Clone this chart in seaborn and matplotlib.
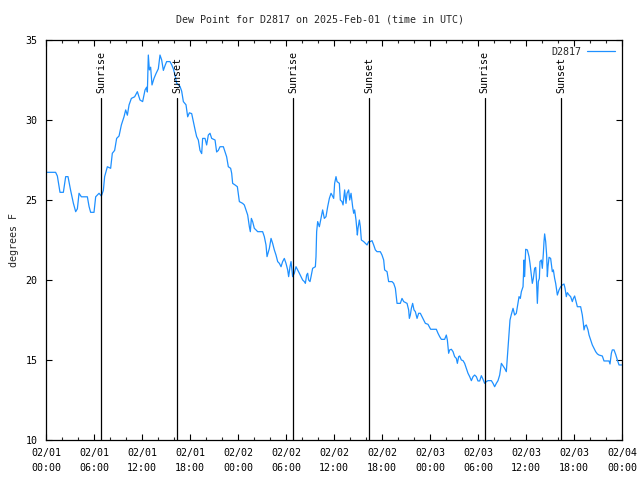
import numpy as np
import pandas as pd
import matplotlib
matplotlib.use("Agg")
import matplotlib.pyplot as plt
import matplotlib.dates as mdates
import seaborn as sns

# Hours since 2025-02-01 00:00 UTC and dew point values (deg F)
hours = [
    0.08, 1.2, 1.42, 1.75, 2.17, 2.46, 2.75, 3.08, 3.42, 3.71, 3.92, 4.13, 4.42, 5.17, 5.38, 5.58, 6.0, 6.21, 6.63, 6.92,
    7.17, 7.33, 7.67, 8.08, 8.29, 8.58, 8.83, 9.13, 9.42, 9.75, 9.96, 10.17, 10.38, 10.67, 11.08, 11.42,
    11.75, 12.08, 12.38, 12.58, 12.67, 12.79, 12.92, 13.08, 13.25, 13.5, 13.75, 14.04, 14.25, 14.46, 14.67, 14.88,
    15.08, 15.5, 15.71, 15.92, 16.13, 16.33, 16.75, 16.96, 17.17, 17.5, 17.71, 17.92, 18.21, 18.42, 18.63, 18.83,
    19.04, 19.25, 19.46, 19.58, 19.88, 20.08, 20.29, 20.5, 20.71, 21.13, 21.33, 21.54, 21.75, 22.17, 22.38, 22.58,
    22.79, 23.08, 23.21, 23.33, 23.63, 23.92, 24.17,
    24.58, 24.79, 25.0, 25.21, 25.42, 25.54, 25.67, 25.83, 26.04, 26.25, 26.46, 27.08, 27.29, 27.5, 27.63, 27.75,
    27.92, 28.13, 28.33, 28.54, 28.75, 28.96, 29.17, 29.38, 29.58, 29.79, 30.0, 30.21, 30.33, 30.5, 30.63, 30.83,
    31.04, 31.25, 31.46, 31.67, 31.88, 32.08, 32.29, 32.42, 32.58, 32.71, 32.83, 33.0, 33.13, 33.33, 33.67, 33.75,
    33.83, 33.96, 34.17, 34.38, 34.58, 34.79, 35.0, 35.21, 35.42, 35.63,
    35.75, 35.96, 36.08, 36.25, 36.38, 36.67, 36.79, 37.0, 37.13, 37.33, 37.5, 37.63, 37.83, 37.96, 38.13, 38.33,
    38.46, 38.58, 38.75, 38.92, 39.0, 39.17, 39.29, 39.42, 39.71, 39.92, 40.13, 40.33, 40.54, 40.75, 40.96, 41.17,
    41.38, 41.79, 42.0, 42.21, 42.33, 42.63, 42.83, 43.25, 43.46, 43.67, 43.88, 44.29, 44.5, 44.71, 45.13, 45.33,
    45.42, 45.54, 45.67, 45.83, 46.0, 46.17, 46.38, 46.58, 46.79, 47.0, 47.21, 47.42,
    47.75, 48.08, 48.79, 49.0, 49.21, 49.42, 49.83, 50.04, 50.17, 50.33, 50.46, 50.67, 50.88, 51.08, 51.29, 51.42,
    51.58, 51.71, 51.92, 52.13, 52.33, 52.54, 52.75, 52.96, 53.17, 53.38, 53.58, 53.79, 54.0, 54.21, 54.42, 54.63,
    54.83, 55.04, 55.25, 55.67, 55.88, 56.08, 56.29, 56.5, 56.71, 56.92, 57.13, 57.33, 57.54, 57.67, 57.83, 58.0,
    58.17, 58.38, 58.58, 58.79, 59.0, 59.13, 59.29, 59.42, 59.63,
    59.75, 59.83, 59.96, 60.17, 60.38, 60.5, 60.67, 60.79, 60.92, 61.08, 61.21, 61.33, 61.42, 61.54, 61.67, 61.75,
    61.92, 62.04, 62.17, 62.25, 62.33, 62.46, 62.58, 62.67, 62.75, 62.88, 63.08, 63.29, 63.42, 63.58, 63.71, 63.83,
    63.92, 64.13, 64.33, 64.54, 64.75, 64.88, 65.04, 65.17, 65.38, 65.58, 65.79, 65.92, 66.08, 66.21, 66.42, 66.83,
    67.04, 67.17, 67.25, 67.38, 67.54, 67.75, 67.88, 68.08, 68.29, 68.5, 68.71, 68.92, 69.13, 69.54, 69.75, 70.38,
    70.5, 70.67, 70.79, 71.0, 71.21, 71.42, 71.63, 71.96,
]
dewpoint = [
    26.73, 26.73, 26.5, 25.48, 25.48, 26.46, 26.46, 25.6, 24.8, 24.27, 24.45, 25.42, 25.2, 25.2, 24.6, 24.23, 24.23, 25.2, 25.42, 25.25,
    25.6, 26.46, 27.08, 26.98, 27.92, 28.1, 28.85, 29.0, 29.69, 30.2, 30.63, 30.3, 30.94, 31.35, 31.45, 31.77,
    31.25, 31.15, 31.88, 32.05, 31.75, 34.06, 33.13, 33.3, 32.19, 32.6, 32.9, 33.2, 34.06, 33.75, 33.1, 33.4,
    33.65, 33.65, 33.45, 33.2, 32.8, 32.3, 32.1, 31.8, 31.15, 30.95, 30.2, 30.45, 30.4, 29.9, 29.4, 28.96,
    28.75, 28.1, 27.9, 28.85, 28.85, 28.44, 29.06, 29.17, 28.85, 28.75, 28.0, 28.1, 28.33, 28.33, 28.0, 27.7,
    27.08, 26.98, 26.67, 26.04, 25.94, 25.83, 24.9,
    24.79, 24.69, 24.38, 24.06, 23.33, 23.02, 23.85, 23.65, 23.23, 23.13, 23.02, 23.02, 22.71, 22.19, 21.46, 21.67,
    21.98, 22.6, 22.29, 21.88, 21.56, 21.15, 21.04, 20.83, 21.15, 21.35, 21.04, 20.63, 20.21, 20.83, 21.15, 20.21,
    20.42, 20.83, 20.63, 20.42, 20.21, 20.0, 19.9, 19.79, 20.31, 20.42, 20.0, 19.9, 20.21, 20.73, 20.83, 21.46,
    23.02, 23.65, 23.33, 23.85, 24.38, 23.85, 23.96, 24.58, 25.1, 25.42,
    25.31, 25.1, 26.04, 26.46, 26.15, 26.04, 25.0, 24.9, 24.69, 25.63, 24.79, 25.42, 25.63, 25.0, 25.42, 24.58,
    24.17, 24.38, 23.75, 22.81, 23.23, 23.75, 23.33, 22.5, 22.4, 22.29, 22.19, 22.4, 22.4, 22.46, 22.19, 21.88,
    21.77, 21.77, 21.56, 21.25, 20.63, 20.52, 19.9, 19.9, 19.79, 19.48, 18.54, 18.54, 18.85, 18.65, 18.54, 18.13,
    17.6, 17.81, 18.23, 18.54, 18.13, 18.02, 17.6, 17.92, 17.92, 17.71, 17.5, 17.29,
    17.23, 16.92, 16.92, 16.67, 16.46, 16.29, 16.29, 16.56, 16.25, 15.42, 15.63, 15.67, 15.52, 15.21, 15.1, 14.79,
    15.21, 15.25, 15.0, 14.96, 14.79, 14.48, 14.17, 13.96, 13.71, 13.96, 14.06, 13.96, 13.69, 13.69, 14.02, 13.79,
    13.54, 13.65, 13.71, 13.71, 13.54, 13.33, 13.54, 13.71, 14.06, 14.79, 14.63, 14.48, 14.27, 15.21, 16.46, 17.5,
    17.85, 18.23, 17.81, 17.92, 18.54, 18.96, 18.85, 19.27, 19.58,
    21.25, 20.21, 21.92, 21.88, 21.46, 21.04, 20.31, 19.79, 20.1, 20.73, 20.79, 19.79, 18.54, 19.9, 20.1, 21.15,
    21.25, 20.73, 21.67, 22.4, 22.88, 22.4, 21.56, 20.21, 20.83, 21.42, 21.35, 20.52, 20.63, 20.1, 19.79, 19.38,
    19.06, 19.38, 19.58, 19.69, 19.75, 19.48, 18.96, 19.21, 19.06, 18.96, 18.65, 18.85, 19.0, 18.75, 18.33, 18.33,
    17.81, 17.29, 16.88, 17.13, 17.19, 16.88, 16.56, 16.25, 15.94, 15.73, 15.52, 15.38, 15.31, 15.25, 14.94, 14.94,
    14.75, 15.42, 15.63, 15.63, 15.35, 15.0, 14.69, 14.69,
]

sun_hours = [6.87, 16.4, 30.87, 40.42, 54.83, 64.42]
sun_labels = ["Sunrise", "Sunset", "Sunrise", "Sunset", "Sunrise", "Sunset"]
x_tick_hours = [0, 6, 12, 18, 24, 30, 36, 42, 48, 54, 60, 66, 72]
y_ticks = [10, 15, 20, 25, 30, 35]

base = pd.Timestamp("2025-02-01 00:00")
df = pd.DataFrame({
    "time": [base + pd.Timedelta(hours=h) for h in hours],
    "dewpoint": dewpoint,
    "station": "D2817",
})

sns.set_style("ticks")
plt.rcParams["font.family"] = ["DejaVu Sans Mono"]

fig = plt.figure(figsize=(6.4, 4.8), dpi=100)
ax = fig.add_axes([46 / 640, 40 / 480, 576 / 640, 400 / 480])

sns.lineplot(data=df, x="time", y="dewpoint", hue="station", palette=["#1E90FF"],
             linewidth=0.9, ax=ax, estimator=None)

ax.set_xlim(base, base + pd.Timedelta(hours=72))
ax.set_ylim(10, 35)
ax.set_yticks(y_ticks)
ax.set_xticks([base + pd.Timedelta(hours=h) for h in x_tick_hours])
ax.xaxis.set_major_formatter(mdates.DateFormatter("%m/%d\n%H:%M"))
ax.set_xticks([base + pd.Timedelta(hours=h) for h in range(0, 73, 2)], minor=True)

for sp in ax.spines.values():
    sp.set_visible(True)
    sp.set_color("black")
    sp.set_linewidth(0.9)

ax.tick_params(axis="both", which="major", direction="in", length=4, width=0.8,
               top=True, right=True, labelsize=7.2, colors="black", pad=6)
ax.tick_params(axis="x", which="minor", direction="in", length=2.5, width=0.8, top=True, bottom=True)
for lab in ax.get_xticklabels():
    lab.set_linespacing(1.6)

for h, lab in zip(sun_hours, sun_labels):
    t = base + pd.Timedelta(hours=h)
    ax.axvline(t, ymin=0, ymax=(440 - 98) / 400, color="black", linewidth=0.9)
    ax.text(t, 35 - (93 - 40) / 16, lab, rotation=90, ha="center", va="bottom",
            fontsize=7.2, color="black")

ax.set_xlabel("")
ax.set_ylabel("degrees F", fontsize=7.2, labelpad=5)
fig.suptitle("Dew Point for D2817 on 2025-Feb-01 (time in UTC)", fontsize=7.2, y=0.97)

leg = ax.legend(loc="upper right", frameon=False, markerfirst=False, fontsize=7.2,
                handlelength=2.8, borderaxespad=0.3, handletextpad=0.6)

fig.savefig("out.png", dpi=100)
